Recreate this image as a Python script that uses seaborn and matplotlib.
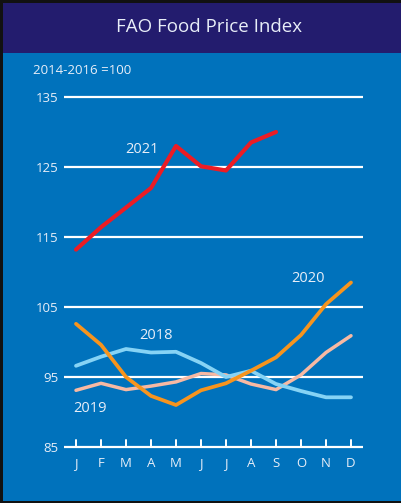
import matplotlib
matplotlib.use("Agg")
import matplotlib.pyplot as plt
import pandas as pd
import seaborn as sns
from matplotlib.patches import Rectangle

# month labels and index values (2014-2016 = 100)
MONTHS = ["J", "F", "M", "A", "M", "J", "J", "A", "S", "O", "N", "D"]
Y2018 = [96.6, 97.9, 99.0, 98.5, 98.6, 97.0, 95.0, 95.9, 94.0, 93.0, 92.1, 92.1]
Y2019 = [93.1, 94.1, 93.2, 93.7, 94.3, 95.5, 95.3, 94.0, 93.2, 95.3, 98.5, 100.9]
Y2020 = [102.6, 99.6, 95.0, 92.3, 91.0, 93.1, 94.1, 95.9, 97.8, 101.0, 105.4, 108.5]
Y2021 = [113.2, 116.4, 119.2, 122.0, 128.0, 125.1, 124.5, 128.5, 130.0]
Y_TICKS = [85, 95, 105, 115, 125, 135]

NAVY = "#231c6e"
BLUE = "#0072bc"
TEXT = "#e8eef8"

W, H = 401, 503


def px_box(x0, y0, x1, y1):
    # pixel box (top-left origin) -> figure fraction rect
    return [x0 / W, 1 - y1 / H, (x1 - x0) / W, (y1 - y0) / H]


def main():
    sns.set_style("white")
    plt.rcParams["font.family"] = ["Open Sans", "DejaVu Sans"]

    frames = []
    for year, vals in [("2019", Y2019), ("2018", Y2018), ("2020", Y2020), ("2021", Y2021)]:
        frames.append(pd.DataFrame({"month": range(len(vals)), "value": vals, "year": year}))
    df = pd.concat(frames, ignore_index=True)

    fig = plt.figure(figsize=(W / 100, H / 100), dpi=100, facecolor="#111111")
    fig.patches.append(Rectangle((3 / W, 1 - 53 / H), 1, 50 / H, transform=fig.transFigure,
                                 facecolor=NAVY, edgecolor="none", zorder=-2))
    fig.patches.append(Rectangle((3 / W, 1 - 501 / H), 1, 448 / H, transform=fig.transFigure,
                                 facecolor=BLUE, edgecolor="none", zorder=-2))

    fig.text(209 / W, 1 - 27 / H, "FAO Food Price Index", color=TEXT, fontsize=13.5,
             ha="center", va="center")
    fig.text(33 / W, 1 - 70 / H, "2014-2016 =100", color=TEXT, fontsize=9.5,
             ha="left", va="center")

    ax = fig.add_axes(px_box(64, 93.5, 363, 450.5))
    ax.set_facecolor("none")

    for y in Y_TICKS:
        ax.axhline(y, color="white", lw=1.6, zorder=1)

    styles = {
        "2019": ("#f7b9a3", 2.5),
        "2018": ("#86d3f5", 2.7),
        "2020": ("#f7941d", 2.7),
        "2021": ("#ec1c24", 3.0),
    }
    for i, (year, (color, lw)) in enumerate(styles.items()):
        sns.lineplot(data=df[df["year"] == year], x="month", y="value", ax=ax,
                     color=color, lw=lw, zorder=3 + i, legend=False)

    ax.set_xlim(-0.48, 11.48)
    ax.set_ylim(84.5, 135.5)
    ax.set_xticks(range(12))
    ax.set_xticklabels(MONTHS)
    ax.set_yticks(Y_TICKS)
    ax.set_yticklabels([str(t) for t in Y_TICKS])
    ax.set_xlabel("")
    ax.set_ylabel("")
    for s in ax.spines.values():
        s.set_visible(False)

    # small ticks sitting on top of the 85 line
    for m in range(12):
        ax.plot([m, m], [85, 86], color="white", lw=1.4, zorder=2, clip_on=False)

    ax.tick_params(axis="x", length=0, pad=5, labelsize=9.5, labelcolor=TEXT)
    ax.tick_params(axis="y", length=0, pad=4, labelsize=9.5, labelcolor=TEXT)

    labels = [("2021", 2.66, 127.5), ("2020", 9.28, 109.0), ("2018", 3.22, 100.9), ("2019", 0.56, 90.5)]
    for text, x, y in labels:
        ax.text(x, y, text, color=TEXT, fontsize=10.5, ha="center", va="center", zorder=10)

    fig.savefig("out.png", dpi=100, facecolor=fig.get_facecolor())
    plt.close(fig)


if __name__ == "__main__":
    main()
